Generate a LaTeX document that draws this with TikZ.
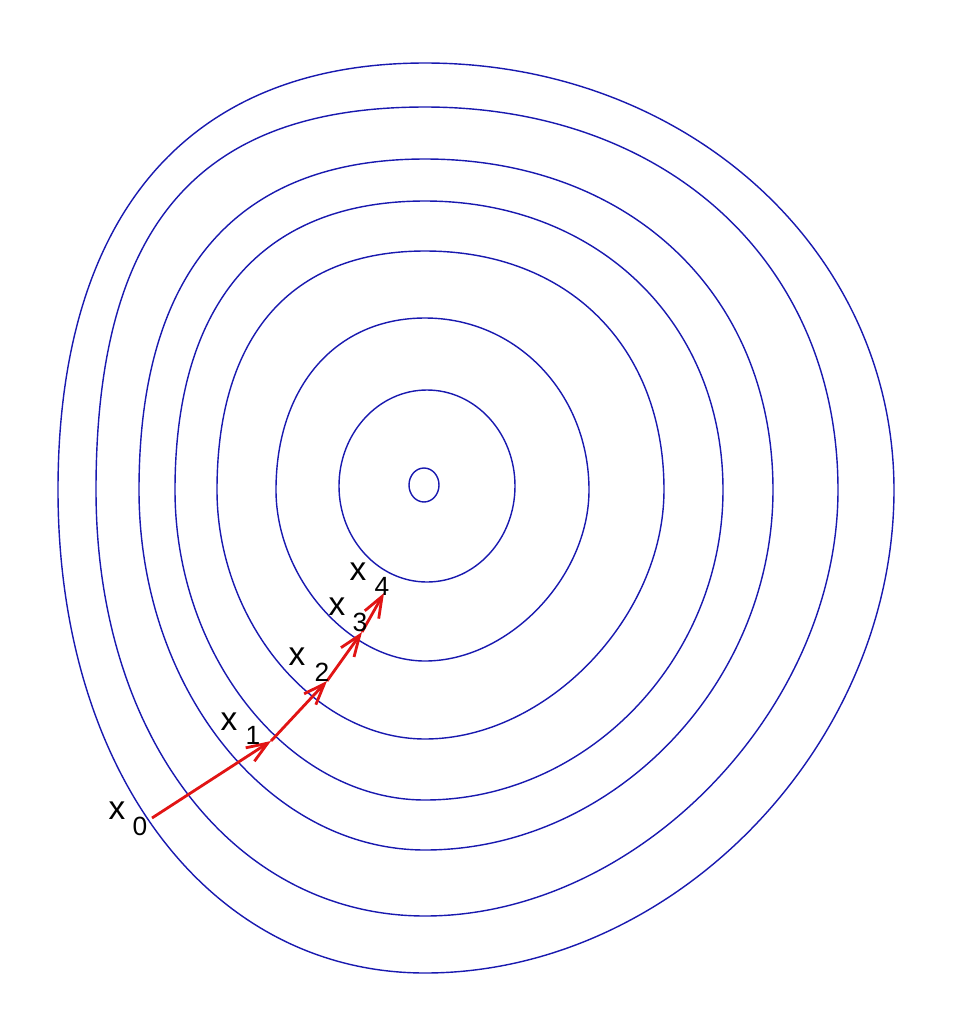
\documentclass[tikz,border=0pt]{standalone}
\usepackage{fontspec}
\setmainfont{Liberation Sans}
\usetikzlibrary{arrows.meta}
\definecolor{levelblue}{RGB}{25,25,175}
\definecolor{stepred}{RGB}{225,20,20}
\tikzset{
isoline/.style={draw=levelblue,line width=0.8pt},
descent/.style={draw=stepred,line width=1.6pt,-{Straight Barb[length=4.2mm,width=3.2mm]}},
xlabel/.style={font=\fontsize{19}{19}\selectfont,inner sep=0pt},
ilabel/.style={font=\fontsize{15}{15}\selectfont,inner sep=0pt}
}
\begin{document}
\begin{tikzpicture}[x=0.02cm,y=-0.02cm]
\useasboundingbox (0,0) rectangle (960,1029);
\foreach \cx/\cy/\T/\R/\B/\L/\ka/\kb/\kc/\kd in {
425/490/63/894/973/58/0.56/0.53/0.585/0.645,
425/490/107/838/916/96/0.59/0.515/0.58/0.69,
425/490/159/773/850/139/0.59/0.54/0.55/0.66,
425/490/201/723/800/175/0.58/0.545/0.54/0.65,
425/490/251/664/739/217/0.6/0.51/0.53/0.645,
425/490/318/589/661/276/0.56/0.51/0.51/0.6,
427/486/390/515/582/339/0.552/0.552/0.552/0.552}
\draw[isoline] (\cx,\T) .. controls ({\cx+\ka*(\R-\cx)},\T) and (\R,{\cy-\ka*(\cy-\T)}) .. (\R,\cy)
.. controls (\R,{\cy+\kb*(\B-\cy)}) and ({\cx+\kb*(\R-\cx)},\B) .. (\cx,\B)
.. controls ({\cx-\kc*(\cx-\L)},\B) and (\L,{\cy+\kc*(\B-\cy)}) .. (\L,\cy)
.. controls (\L,{\cy-\kd*(\cy-\T)}) and ({\cx-\kd*(\cx-\L)},\T) .. cycle;
\draw[isoline] (424,485) ellipse [x radius=0.3cm, y radius=0.34cm];
\coordinate (x0) at (152,818);
\coordinate (x1) at (271,741);
\coordinate (x2) at (327,681);
\coordinate (x3) at (362,632);
\coordinate (x4) at (384,593);
\draw[descent] (x0) -- (x1);
\draw[descent] (x1) -- (x2);
\draw[descent] (x2) -- (x3);
\draw[descent] (x3) -- (x4);
\node[xlabel] (l0) at (117,811) {x};
\node[ilabel] (i0) at (140,826) {0};
\node[xlabel] (l1) at (229,722) {x};
\node[ilabel] (i1) at (253,735) {1};
\node[xlabel] (l2) at (297,657) {x};
\node[ilabel] (i2) at (322,672) {2};
\node[xlabel] (l3) at (337,607) {x};
\node[ilabel] (i3) at (360,622) {3};
\node[xlabel] (l4) at (358,572) {x};
\node[ilabel] (i4) at (382,586) {4};
\end{tikzpicture}
\end{document}
